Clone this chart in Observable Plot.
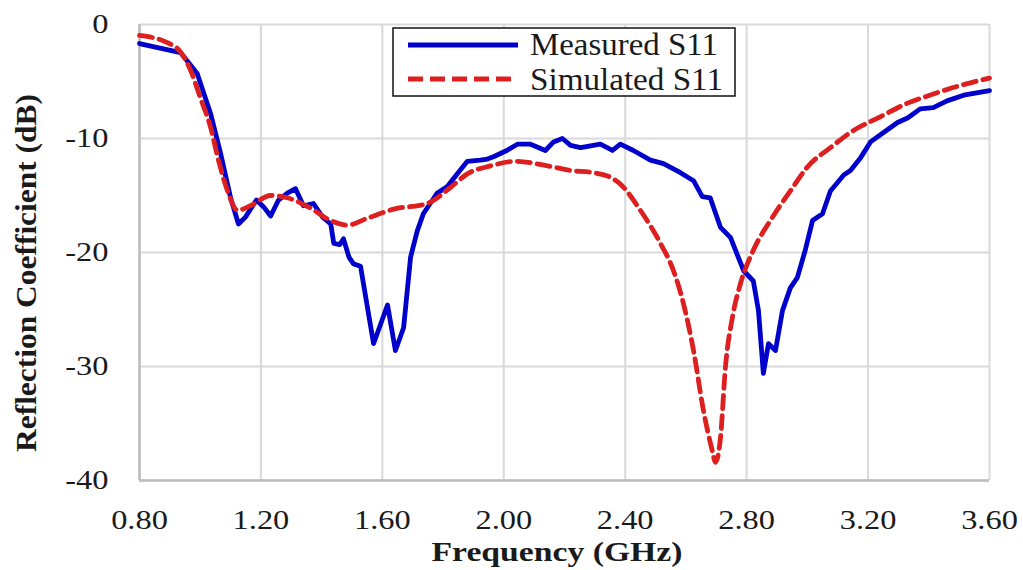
<!DOCTYPE html>
<html><head><meta charset="utf-8">
<script src="https://cdn.jsdelivr.net/npm/d3@7"></script>
<script src="https://cdn.jsdelivr.net/npm/@observablehq/plot@0.6"></script>
<style>
body{margin:0;background:#fff;}
#wrap{position:relative;width:1023px;height:570px;}
</style></head><body><div id="wrap"></div>
<script>
const xTicks = [0.8, 1.2, 1.6, 2.0, 2.4, 2.8, 3.2, 3.6];
const yTicks = [0, -10, -20, -30, -40];
const seriesNames = ["Measured S11", "Simulated S11"];

const measuredFreq = [0.80,0.935,0.99,1.034,1.067,1.10,1.126,1.149,1.185,1.209,1.232,1.258,1.287,1.314,1.34,1.373,1.403,1.43,1.44,1.46,1.472,1.49,1.505,1.528,1.571,1.617,1.643,1.67,1.693,1.715,1.735,1.78,1.814,1.847,1.88,1.923,1.946,1.966,2.01,2.045,2.088,2.137,2.164,2.193,2.22,2.253,2.318,2.358,2.384,2.427,2.483,2.526,2.582,2.625,2.654,2.68,2.714,2.747,2.79,2.822,2.839,2.855,2.872,2.895,2.918,2.944,2.967,2.993,3.017,3.05,3.076,3.12,3.142,3.175,3.208,3.25,3.297,3.33,3.372,3.415,3.46,3.515,3.60];
const measuredS11 = [-1.67,-2.46,-4.3,-7.8,-11.3,-15.2,-17.5,-16.9,-15.4,-16.0,-16.8,-15.4,-14.8,-14.4,-15.9,-15.7,-16.9,-17.5,-19.2,-19.3,-18.8,-20.4,-21.0,-21.2,-28.0,-24.6,-28.6,-26.6,-20.4,-18.1,-16.6,-14.8,-14.2,-13.1,-12.0,-11.9,-11.8,-11.6,-11.05,-10.5,-10.5,-11.05,-10.3,-10.0,-10.6,-10.8,-10.5,-11.05,-10.5,-11.05,-11.9,-12.2,-13.0,-13.7,-15.1,-15.2,-17.8,-18.7,-21.6,-22.5,-25.1,-30.6,-28.0,-28.6,-25.1,-23.1,-22.2,-19.8,-17.2,-16.6,-14.6,-13.2,-12.8,-11.7,-10.3,-9.5,-8.6,-8.2,-7.4,-7.3,-6.7,-6.2,-5.8];

const simulatedFreq = [0.80,0.892,0.935,0.968,1.0,1.034,1.06,1.09,1.123,1.165,1.232,1.287,1.363,1.43,1.485,1.55,1.637,1.748,1.824,1.88,1.956,2.04,2.144,2.22,2.295,2.351,2.384,2.45,2.516,2.559,2.592,2.625,2.658,2.687,2.697,2.714,2.73,2.753,2.78,2.822,2.878,2.944,3.0,3.076,3.152,3.24,3.33,3.415,3.504,3.60];
const simulatedS11 = [-0.96,-1.6,-2.4,-4.0,-6.4,-9.0,-11.9,-14.6,-16.3,-15.9,-15.0,-15.2,-16.1,-17.2,-17.6,-17.0,-16.2,-15.7,-14.3,-13.1,-12.4,-12.0,-12.4,-12.8,-13.0,-13.4,-14.0,-16.3,-19.2,-21.6,-24.5,-28.6,-33.9,-37.4,-38.4,-36.2,-30.1,-25.7,-22.7,-19.8,-17.2,-14.6,-12.5,-10.8,-9.3,-8.1,-6.9,-6.1,-5.35,-4.7];

const measured = measuredFreq.map((f, i) => ({f, s: measuredS11[i]}));
const simulated = simulatedFreq.map((f, i) => ({f, s: simulatedS11[i]}));

const BLUE = "#0000cc", RED = "#dd1f1f";
const FONT = "'Liberation Serif',serif";

const chart = Plot.plot({
  width: 1023, height: 570,
  marginLeft: 139, marginRight: 34, marginTop: 24, marginBottom: 90,
  style: {fontFamily: FONT, fontSize: "27px", color: "#1a1a1a", background: "white", overflow: "visible"},
  x: {domain: [0.8, 3.6], ticks: xTicks, tickFormat: d => d.toFixed(2), tickSize: 0, tickPadding: 29, label: null},
  y: {domain: [-40, 0], ticks: yTicks, tickFormat: d => String(d), tickSize: 0, tickPadding: 31, label: null},
  marks: [
    Plot.ruleX(xTicks, {stroke: "#d9d9d9", strokeWidth: 2}),
    Plot.ruleY(yTicks, {stroke: "#d9d9d9", strokeWidth: 2}),
    Plot.ruleX([xTicks[0]], {stroke: "#bdbdbd", strokeWidth: 2.5}),
    Plot.ruleY([yTicks[yTicks.length - 1]], {stroke: "#bdbdbd", strokeWidth: 2.5}),
    Plot.line(measured, {x: "f", y: "s", stroke: BLUE, strokeWidth: 4.8, strokeLinejoin: "round", strokeLinecap: "round"}),
    Plot.line(simulated, {x: "f", y: "s", stroke: RED, strokeWidth: 4.8, strokeDasharray: "13,7", curve: "monotone-x"})
  ]
});
document.getElementById("wrap").append(chart);

const svg = d3.select(chart);
svg.selectAll("text").each(function() {
  const L = this.getComputedTextLength();
  if (L > 0) { this.setAttribute("textLength", (L * 1.2).toFixed(1)); this.setAttribute("lengthAdjust", "spacingAndGlyphs"); }
});

// axis titles
svg.append("text").text("Frequency (GHz)")
  .attr("x", 557).attr("y", 561).attr("text-anchor", "middle")
  .attr("font-family", FONT).attr("font-weight", "bold").attr("font-size", 28).attr("fill", "#1a1a1a")
  .attr("textLength", 251).attr("lengthAdjust", "spacingAndGlyphs");
svg.append("text").text("Reflection Coefficient (dB)")
  .attr("transform", "translate(36,273) rotate(-90)").attr("text-anchor", "middle")
  .attr("font-family", FONT).attr("font-weight", "bold").attr("font-size", 30).attr("fill", "#1a1a1a")
  .attr("textLength", 358).attr("lengthAdjust", "spacingAndGlyphs");

// legend
const lg = svg.append("g");
lg.append("rect").attr("x", 393).attr("y", 28).attr("width", 342).attr("height", 68)
  .attr("fill", "white").attr("stroke", "#111").attr("stroke-width", 1.5);
lg.append("line").attr("x1", 408).attr("x2", 518).attr("y1", 45).attr("y2", 45)
  .attr("stroke", BLUE).attr("stroke-width", 4.8);
lg.append("line").attr("x1", 408).attr("x2", 518).attr("y1", 79).attr("y2", 79)
  .attr("stroke", RED).attr("stroke-width", 4.8).attr("stroke-dasharray", "15,7");
[[seriesNames[0], 55, 188], [seriesNames[1], 90, 193]].forEach(([t, y, w]) => {
  lg.append("text").text(t).attr("x", 530).attr("y", y).attr("text-anchor", "start")
    .attr("font-family", FONT).attr("font-size", 32).attr("fill", "#1a1a1a")
    .attr("textLength", w).attr("lengthAdjust", "spacingAndGlyphs");
});
</script>
</body></html>
